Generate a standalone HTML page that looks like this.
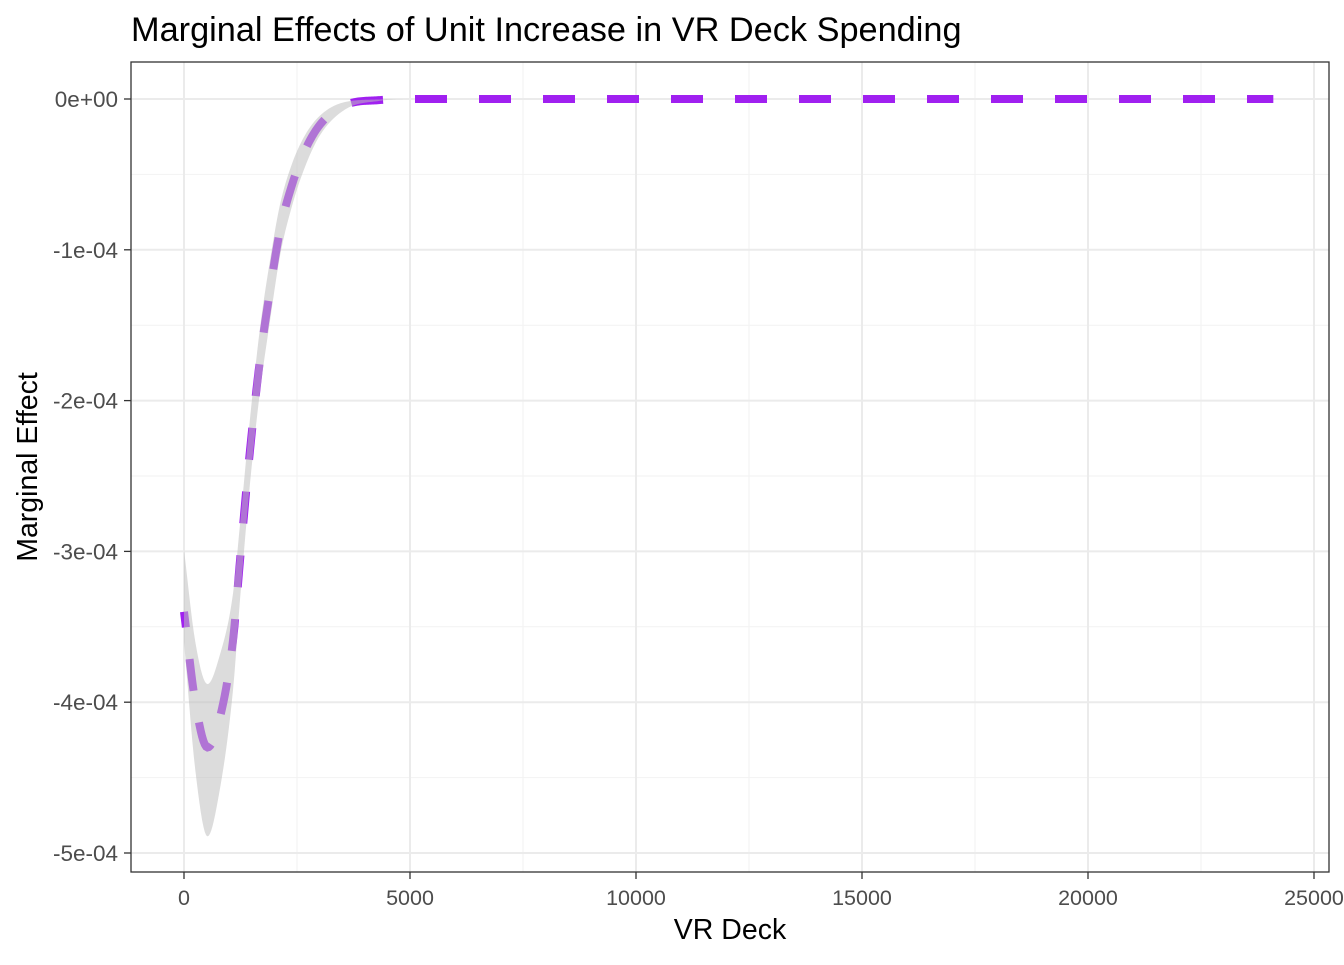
<!DOCTYPE html>
<html><head><meta charset="utf-8"><style>
body{margin:0;background:#fff;font-family:"Liberation Sans",Arial,sans-serif}
svg text{font-family:"Liberation Sans",Arial,sans-serif}
</style></head><body>
<svg id="chart" width="1344" height="960">
<rect x="0" y="0" width="1344" height="960" fill="#fff"/>
<text x="131" y="41" font-size="34.3" fill="#000">Marginal Effects of Unit Increase in VR Deck Spending</text>
<g id="grid"></g>
<g id="marks"></g>
<rect x="131" y="62" width="1198" height="810" fill="none" stroke="#333" stroke-width="1.3"/>
<g id="axes"></g>
<text x="730" y="939" font-size="28.5" text-anchor="middle" fill="#000">VR Deck</text>
<text transform="translate(37,467) rotate(-90)" font-size="28.5" text-anchor="middle" fill="#000">Marginal Effect</text>
</svg>
<script>
const xs=[0,250,520,780,1084,1239,1460,1681,1903,2124,2389,2677,3009,3562,4336,5000,24100];
const meanVals=[-3.40,-4.0,-4.30,-4.12,-3.59,-3.06,-2.33,-1.73,-1.27,-0.87,-0.57,-0.34,-0.17,-0.04,-0.007,0,0];
const upperVals=[-2.99,-3.6,-3.88,-3.70,-3.28,-2.82,-2.12,-1.52,-1.07,-0.70,-0.43,-0.24,-0.11,-0.02,-0.003,0,0];
const lowerVals=[-3.6,-4.45,-4.89,-4.60,-3.92,-3.32,-2.55,-1.94,-1.47,-1.04,-0.71,-0.45,-0.24,-0.07,-0.012,0,0];
const xTicks=[0,5000,10000,15000,20000,25000];
const xTickLabels=["0","5000","10000","15000","20000","25000"];
const yTicks=[0,-1,-2,-3,-4,-5];
const yTickLabels=["0e+00","-1e-04","-2e-04","-3e-04","-4e-04","-5e-04"];

const NS="http://www.w3.org/2000/svg";
const X=v=>184+v*0.0452;
const Y=v=>99-v*150.8;
function mk(tag,attrs,parent){const e=document.createElementNS(NS,tag);for(const k in attrs)e.setAttribute(k,attrs[k]);parent.appendChild(e);return e;}
function monoPts(x,y){
  const n=x.length,d=[],m=new Array(n);
  for(let i=0;i<n-1;i++)d.push((y[i+1]-y[i])/(x[i+1]-x[i]));
  m[0]=d[0];m[n-1]=d[n-2];
  for(let i=1;i<n-1;i++){m[i]=(d[i-1]*d[i]<=0)?0:(d[i-1]+d[i])/2;}
  for(let i=0;i<n-1;i++){
    if(d[i]===0){m[i]=0;m[i+1]=0;continue;}
    const a=m[i]/d[i],b=m[i+1]/d[i],s=a*a+b*b;
    if(s>9){const t=3/Math.sqrt(s);m[i]=t*a*d[i];m[i+1]=t*b*d[i];}
  }
  const pts=[];
  for(let i=0;i<n-1;i++){
    const h=x[i+1]-x[i],steps=Math.max(4,Math.min(40,Math.round(h/30)));
    for(let k=0;k<steps;k++){
      const t=k/steps,t2=t*t,t3=t2*t;
      const v=(2*t3-3*t2+1)*y[i]+(t3-2*t2+t)*h*m[i]+(-2*t3+3*t2)*y[i+1]+(t3-t2)*h*m[i+1];
      pts.push([X(x[i]+t*h),Y(v)]);
    }
  }
  pts.push([X(x[n-1]),Y(y[n-1])]);
  return pts;
}
const grid=document.getElementById('grid'),marks=document.getElementById('marks'),axes=document.getElementById('axes');
for(let i=0;i<xTicks.length-1;i++){const m=(xTicks[i]+xTicks[i+1])/2;const l=mk('line',{x1:X(m),x2:X(m),y1:62,y2:872,stroke:'#f2f2f2','stroke-width':1},grid);}
for(let i=0;i<yTicks.length-1;i++){const m=(yTicks[i]+yTicks[i+1])/2;const l=mk('line',{x1:131,x2:1329,y1:Y(m),y2:Y(m),stroke:'#f2f2f2','stroke-width':1},grid);}
xTicks.forEach((t,i)=>{
  const l=mk('line',{x1:X(t),x2:X(t),y1:62,y2:872,stroke:'#ebebeb','stroke-width':2},grid);
  
  
  const tk=mk('line',{x1:X(t),x2:X(t),y1:872,y2:879,stroke:'#333','stroke-width':1.3},axes);
  
  
  const tx=mk('text',{x:X(t),y:905,'font-size':21.5,'text-anchor':'middle',fill:'#4d4d4d'},axes);tx.textContent=xTickLabels[i];
  
  
});
yTicks.forEach((t,i)=>{
  const l=mk('line',{x1:131,x2:1329,y1:Y(t),y2:Y(t),stroke:'#ebebeb','stroke-width':2},grid);
  
  
  const tk=mk('line',{x1:124,x2:131,y1:Y(t),y2:Y(t),stroke:'#333','stroke-width':1.3},axes);
  
  
  const tx=mk('text',{x:118,y:Y(t)+8,'font-size':22.5,'text-anchor':'end',fill:'#4d4d4d'},axes);tx.textContent=yTickLabels[i];
  
  
});
const toD=p=>"M"+p.map(q=>q[0].toFixed(2)+","+q[1].toFixed(2)).join(" L");
const mp=monoPts(xs,meanVals);
let L5=0;const x5=X(5000);
for(let i=1;i<mp.length;i++){
  if(mp[i-1][0]>=x5)break;
  const ex=Math.min(mp[i][0],x5),f=(ex-mp[i-1][0])/(mp[i][0]-mp[i-1][0]||1);
  const dx=ex-mp[i-1][0],dy=(mp[i][1]-mp[i-1][1])*f;
  L5+=Math.hypot(dx,dy);
}
const off=((-(L5+5))%64+64)%64;
const line=mk('path',{d:toD(mp),fill:'none',stroke:'#a020f0','stroke-width':8,'stroke-dasharray':'32 32','stroke-dashoffset':off},marks);


const up=monoPts(xs,upperVals),lo=monoPts(xs,lowerVals).reverse();
const band=mk('path',{d:toD(up.concat(lo))+" Z",fill:'rgb(190,190,190)','fill-opacity':0.537,stroke:'none'},marks);


</script>
</body></html>
